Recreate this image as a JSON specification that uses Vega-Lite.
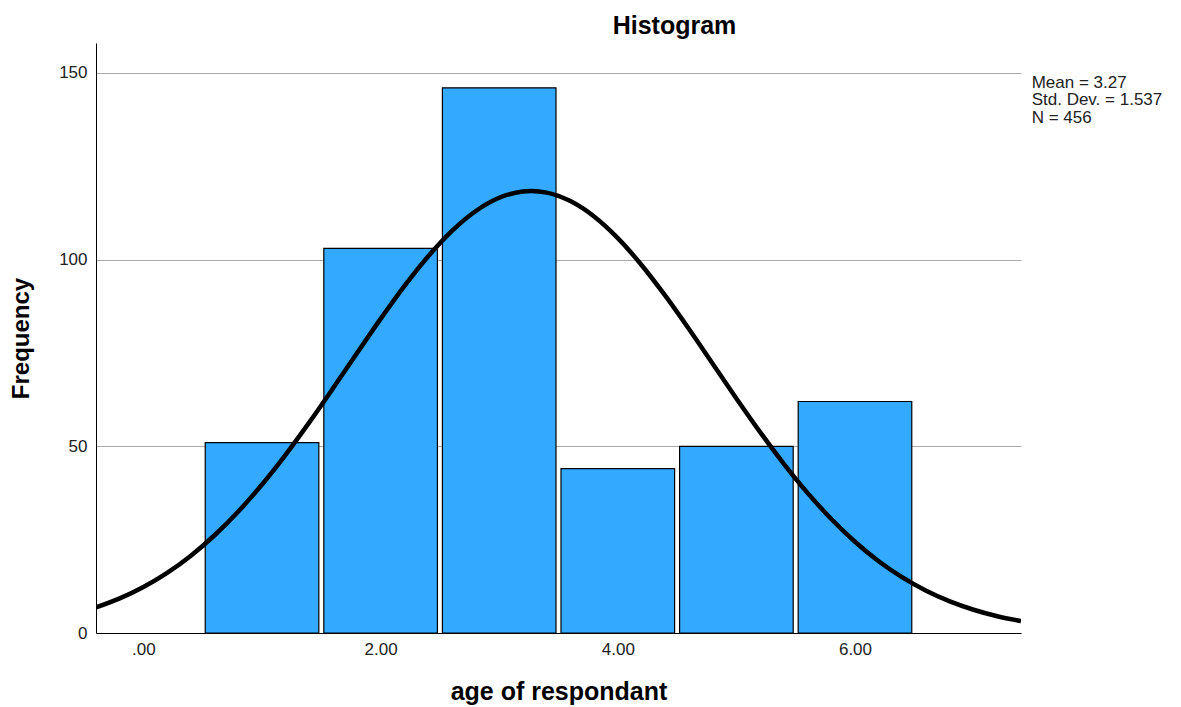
{
  "$schema": "https://vega.github.io/schema/vega-lite/v6.json",
  "width": 925,
  "height": 590,
  "autosize": "none",
  "padding": {"left": 96, "top": 43, "right": 160, "bottom": 74},
  "background": "white",
  "config": {
    "view": {"stroke": null},
    "font": "Liberation Sans"
  },
  "title": {
    "text": "Histogram",
    "fontSize": 25,
    "fontWeight": "bold",
    "color": "black",
    "anchor": "middle",
    "dx": 116,
    "offset": 4
  },
  "datasets": {
    "bars": [
      {"lo": 0.5, "hi": 1.5, "count": 51},
      {"lo": 1.5, "hi": 2.5, "count": 103},
      {"lo": 2.5, "hi": 3.5, "count": 146},
      {"lo": 3.5, "hi": 4.5, "count": 44},
      {"lo": 4.5, "hi": 5.5, "count": 50},
      {"lo": 5.5, "hi": 6.5, "count": 62}
    ],
    "curve": [
      {"age": -0.4, "freq": 6.84},
      {"age": -0.2, "freq": 9.26},
      {"age": 0.0, "freq": 12.31},
      {"age": 0.2, "freq": 16.10},
      {"age": 0.4, "freq": 20.71},
      {"age": 0.6, "freq": 26.18},
      {"age": 0.8, "freq": 32.54},
      {"age": 1.0, "freq": 39.77},
      {"age": 1.2, "freq": 47.79},
      {"age": 1.4, "freq": 56.47},
      {"age": 1.6, "freq": 65.59},
      {"age": 1.8, "freq": 74.92},
      {"age": 2.0, "freq": 84.12},
      {"age": 2.2, "freq": 92.89},
      {"age": 2.4, "freq": 100.84},
      {"age": 2.6, "freq": 107.63},
      {"age": 2.8, "freq": 112.95},
      {"age": 3.0, "freq": 116.55},
      {"age": 3.2, "freq": 118.24},
      {"age": 3.27, "freq": 118.36},
      {"age": 3.4, "freq": 117.94},
      {"age": 3.6, "freq": 115.66},
      {"age": 3.8, "freq": 111.53},
      {"age": 4.0, "freq": 105.74},
      {"age": 4.2, "freq": 98.56},
      {"age": 4.4, "freq": 90.33},
      {"age": 4.6, "freq": 81.40},
      {"age": 4.8, "freq": 72.12},
      {"age": 5.0, "freq": 62.82},
      {"age": 5.2, "freq": 53.81},
      {"age": 5.4, "freq": 45.31},
      {"age": 5.6, "freq": 37.52},
      {"age": 5.8, "freq": 30.54},
      {"age": 6.0, "freq": 24.45},
      {"age": 6.2, "freq": 19.23},
      {"age": 6.4, "freq": 14.88},
      {"age": 6.6, "freq": 11.32},
      {"age": 6.8, "freq": 8.47},
      {"age": 7.0, "freq": 6.23},
      {"age": 7.2, "freq": 4.50},
      {"age": 7.4, "freq": 3.20}
    ],
    "stats": [
      {"label": "Mean = 3.27\nStd. Dev. = 1.537\nN = 456"}
    ]
  },
  "layer": [
    {
      "data": {"name": "bars"},
      "mark": {"type": "rect", "fill": "#33aaff", "stroke": "black", "strokeWidth": 1.2, "xOffset": 2.5, "x2Offset": -2.5},
      "encoding": {
        "x": {
          "field": "lo",
          "type": "quantitative",
          "scale": {"domain": [-0.4, 7.4], "nice": false, "zero": false},
          "axis": {
            "values": [0, 2, 4, 6],
            "labelExpr": "datum.value == 0 ? '.00' : format(datum.value, '.2f')",
            "ticks": false,
            "grid": false,
            "domainColor": "black",
            "domainWidth": 1,
            "labelFontSize": 17,
            "labelColor": "#222222",
            "labelPadding": 8,
            "title": "age of respondant",
            "titleFontSize": 25,
            "titleFontWeight": "bold",
            "titleColor": "black",
            "titlePadding": 22
          }
        },
        "x2": {"field": "hi"},
        "y": {
          "field": "count",
          "type": "quantitative",
          "scale": {"domain": [0, 158], "nice": false},
          "axis": {
            "values": [0, 50, 100, 150],
            "ticks": false,
            "grid": true,
            "gridColor": "#aaaaaa",
            "gridWidth": 1,
            "domainColor": "black",
            "domainWidth": 1,
            "labelFontSize": 17,
            "labelColor": "#222222",
            "labelPadding": 9,
            "title": "Frequency",
            "titleFontSize": 24,
            "titleFontWeight": "bold",
            "titleColor": "black",
            "titlePadding": 25
          }
        },
        "y2": {"datum": 0}
      }
    },
    {
      "data": {"name": "curve"},
      "mark": {"type": "line", "color": "black", "strokeWidth": 4.5, "interpolate": "monotone", "clip": true},
      "encoding": {
        "x": {"field": "age", "type": "quantitative"},
        "y": {"field": "freq", "type": "quantitative"}
      }
    },
    {
      "data": {"name": "stats"},
      "mark": {
        "type": "text",
        "align": "left",
        "baseline": "alphabetic",
        "fontSize": 17,
        "lineHeight": 17.5,
        "lineBreak": "\n",
        "color": "#222222"
      },
      "encoding": {
        "text": {"field": "label"},
        "x": {"datum": 7.49, "type": "quantitative"},
        "y": {"datum": 146, "type": "quantitative"}
      }
    }
  ]
}
